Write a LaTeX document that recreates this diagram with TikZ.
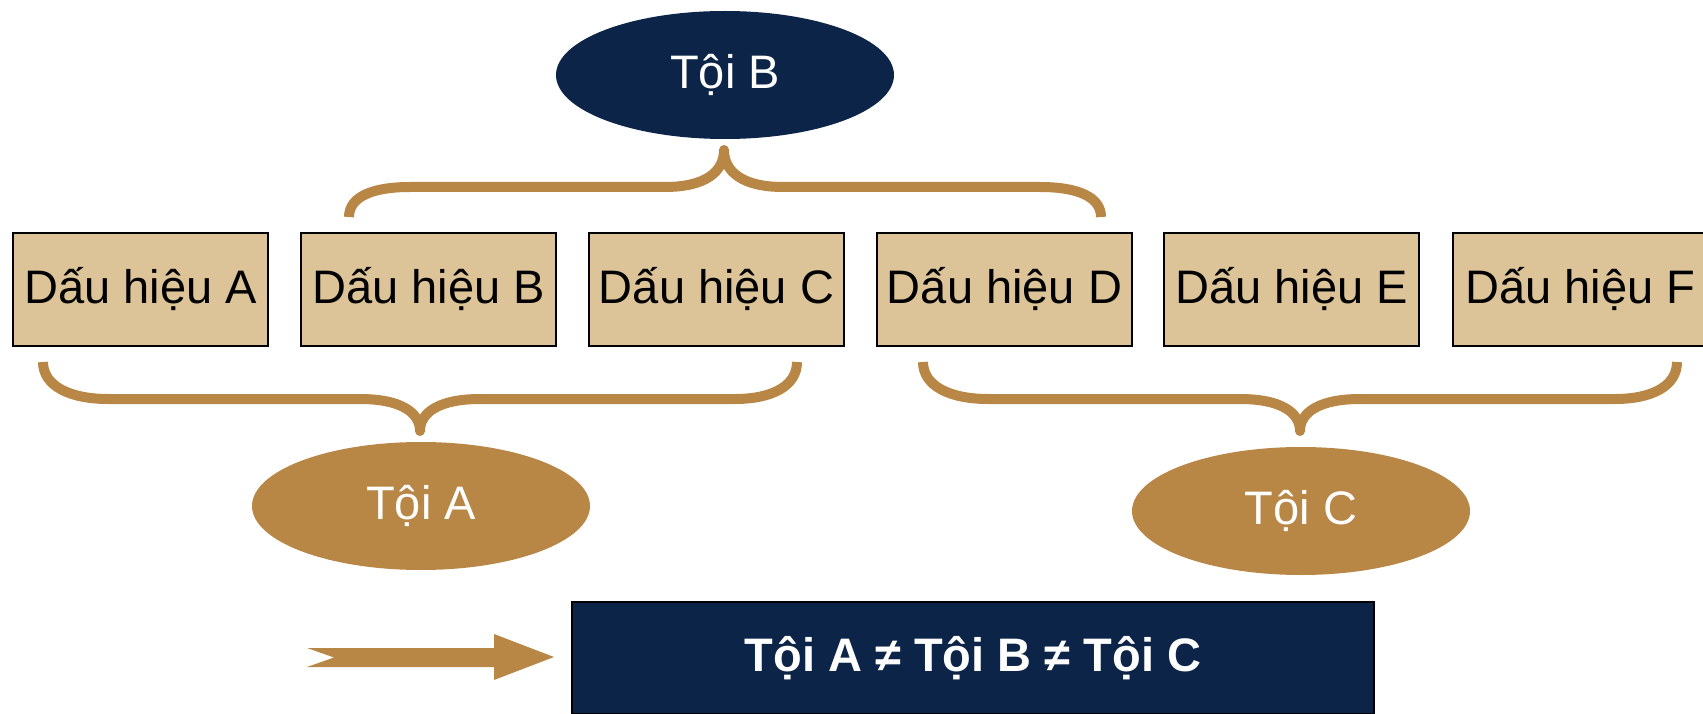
\documentclass[tikz,border=0pt]{standalone}
\usepackage{fontspec}
\setmainfont{Liberation Sans}
\usetikzlibrary{shapes.geometric}

\begin{document}
\begin{tikzpicture}[x=1pt,y=-1pt,
		sign/.style={draw=black,line width=2pt,fill=sand,minimum width=255pt,minimum height=113pt,inner sep=0pt,font=\fontsize{47}{56}\selectfont},
		crime/.style={ellipse,minimum width=338pt,minimum height=128pt,inner sep=0pt,text=white,font=\fontsize{47}{56}\selectfont},
		brace/.style={gold,line width=10pt,line join=round}]
					\definecolor{navy}{HTML}{0B2447}
					\definecolor{gold}{HTML}{B88645}
					\definecolor{sand}{HTML}{DCC398}
					\useasboundingbox (0,0) rectangle (1703,714);

					\node[crime,fill=navy] (toiB) at (725,75) {Tội B};

					\node[sign] (dhA) at (140.5,289.5) {Dấu hiệu A};
					\node[sign] (dhB) at (428.5,289.5) {Dấu hiệu B};
					\node[sign] (dhC) at (716.5,289.5) {Dấu hiệu C};
					\node[sign] (dhD) at (1004.5,289.5) {Dấu hiệu D};
					\node[sign] (dhE) at (1291.5,289.5) {Dấu hiệu E};
					\node[sign] (dhF) at (1580.5,289.5) {Dấu hiệu F};

					\node[crime,fill=gold] (toiA) at (421,506) {Tội A};
					\node[crime,fill=gold] (toiC) at (1301,511) {Tội C};

					% braces: B..D up to toi B, A..C and D..F down to toi A / toi C
					\draw[brace] (349,217) .. controls (349,197) and (372,187) .. (410,187) -- (665,187) .. controls (705,187) and (724,172) .. (724,150) .. controls (724,172) and (743,187) .. (783,187) -- (1040,187) .. controls (1078,187) and (1101,197) .. (1101,217);
					\draw[brace] (43,362) .. controls (43,386) and (70,399) .. (108,399) -- (360,399) .. controls (400,399) and (420,412) .. (420,431) .. controls (420,412) and (440,399) .. (480,399) -- (735,399) .. controls (772,399) and (797,386) .. (797,362);
					\draw[brace] (923,362) .. controls (923,386) and (950,399) .. (988,399) -- (1240,399) .. controls (1280,399) and (1300,412) .. (1300,431) .. controls (1300,412) and (1320,399) .. (1360,399) -- (1615,399) .. controls (1652,399) and (1677,386) .. (1677,362);

					\node[draw=black,line width=1.5pt,fill=navy,text=white,minimum width=802pt,minimum height=112pt,inner sep=0pt,font=\fontsize{47}{56}\selectfont\bfseries] (result) at (973,658) {Tội A ≠ Tội B ≠ Tội C};
					\fill[gold] (307,648) -- (494,648) -- (494,634) -- (554,657) -- (494,680) -- (494,667) -- (307,667) -- (334,657.5) -- cycle;
				\end{tikzpicture}
\end{document}
